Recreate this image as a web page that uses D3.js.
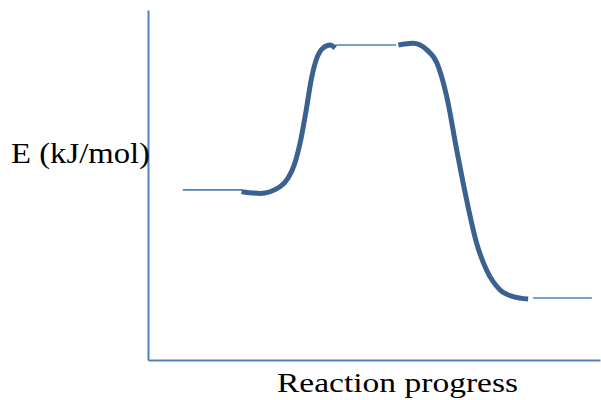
<!DOCTYPE html>
<html>
<head>
<meta charset="utf-8">
<script src="https://cdn.jsdelivr.net/npm/d3@7"></script>
<style>
  body { margin: 0; background: #fff; }
  svg { display: block; }
</style>
</head>
<body>
<div id="chart"></div>
<script>
// energy levels: [x start, x end, energy] in chart units (x 0..100, E 0..100)
const levels = [
    {name: 'reactants', x0: 7.7, x1: 20.8, e: 48.6},
    {name: 'transition', x0: 41.4, x1: 54.9, e: 90.0},
    {name: 'products', x0: 85.2, x1: 98.2, e: 17.7}
];

// rising curve, reactants -> transition state
const riseX = [20.7, 24.8, 29.2, 31.0, 32.5, 33.8, 35.0, 36.1, 37.2, 38.7, 40.3, 41.4];
const riseE = [48.1, 47.6, 49.5, 52.0, 56.3, 62.9, 71.4, 80.0, 85.7, 89.1, 90.0, 89.1];

// falling curve, transition state -> products
const fallX = [55.4, 58.6, 61.7, 63.9, 66.1, 68.3, 70.5, 72.7, 74.9, 77.9, 80.8, 84.1];
const fallE = [90.0, 90.5, 88.6, 84.9, 75.2, 60.0, 45.7, 33.4, 25.7, 20.0, 18.1, 17.4];

const yLabel = 'E (kJ/mol)';
const xLabel = 'Reaction progress';

const width = 601, height = 400;
const axisColor = '#4f81bd';
const curveColor = '#3a6190';

const svg = d3.select('#chart').append('svg')
    .attr('width', width)
    .attr('height', height);

const x = d3.scaleLinear().domain([0, 100]).range([148, 600]);
const y = d3.scaleLinear().domain([0, 100]).range([360, 10]);

// axes without ticks
const yAxis = svg.append('g')
    .attr('transform', `translate(${x(0)},0)`)
    .call(d3.axisLeft(y).ticks(0).tickSizeOuter(0));
const xAxis = svg.append('g')
    .attr('transform', `translate(0,${y(0)})`)
    .call(d3.axisBottom(x).ticks(0).tickSizeOuter(0));
[yAxis, xAxis].forEach(a => {
    a.select('.domain').attr('stroke', axisColor).attr('stroke-width', 2);
    a.selectAll('text').remove();
});

// thin energy levels
svg.selectAll('.level')
    .data(levels)
    .enter().append('line')
    .attr('class', 'level')
    .attr('x1', d => x(d.x0))
    .attr('x2', d => x(d.x1))
    .attr('y1', d => y(d.e))
    .attr('y2', d => y(d.e))
    .attr('stroke', axisColor)
    .attr('stroke-width', 1.6);

// thick curves
const line = d3.line()
    .x(d => x(d[0]))
    .y(d => y(d[1]))
    .curve(d3.curveMonotoneX);

[[riseX, riseE], [fallX, fallE]].forEach(([xs, es]) => {
    svg.append('path')
        .datum(xs.map((v, i) => [v, es[i]]))
        .attr('d', line)
        .attr('fill', 'none')
        .attr('stroke', curveColor)
        .attr('stroke-width', 5)
        .attr('stroke-linecap', 'butt');
});

// labels
svg.append('text')
    .attr('x', 11)
    .attr('y', 163)
    .attr('font-family', 'Liberation Serif, serif')
    .attr('font-size', 29)
    .attr('textLength', 139)
    .attr('lengthAdjust', 'spacingAndGlyphs')
    .attr('fill', '#000')
    .text(yLabel);

svg.append('text')
    .attr('x', 277)
    .attr('y', 392)
    .attr('font-family', 'Liberation Serif, serif')
    .attr('font-size', 28)
    .attr('textLength', 241)
    .attr('lengthAdjust', 'spacingAndGlyphs')
    .attr('fill', '#000')
    .text(xLabel);
</script>
</body>
</html>
